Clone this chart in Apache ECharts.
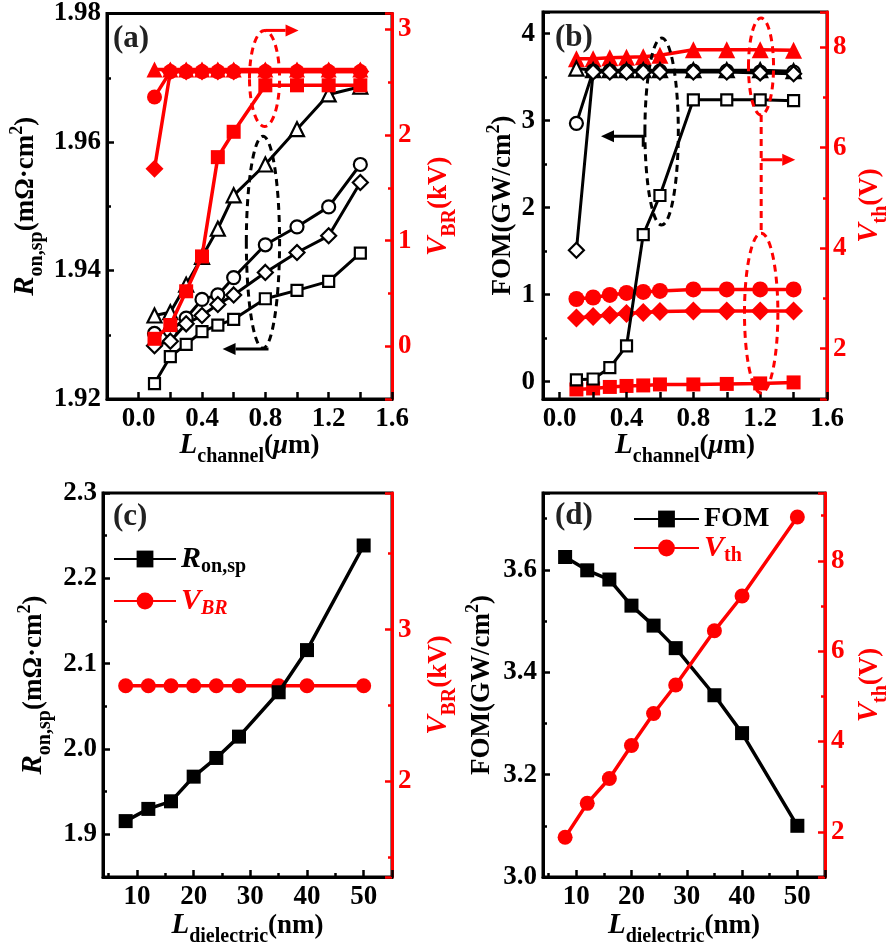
<!DOCTYPE html>
<html>
<head>
<meta charset="UTF-8">
<title>Ron,sp, VBR, FOM and Vth versus Lchannel and Ldielectric</title>
<script src="https://cdn.jsdelivr.net/npm/echarts@6/dist/echarts.min.js"></script>
<style>
    body { margin: 0; background: #fff; }
    #chart { width: 896px; height: 952px; }
</style>
</head>
<body>
<div id="chart"></div>
<script>
// ---------- data ----------
const lChannel = [0.1, 0.2, 0.3, 0.4, 0.5, 0.6, 0.8, 1.0, 1.2, 1.4];

// (a) Ron,sp in mOhm.cm2 (open symbols, left axis)
const ronA_square   = [1.9224, 1.9266, 1.9285, 1.9305, 1.9315, 1.9324, 1.9356, 1.9369, 1.9383, 1.9427];
const ronA_circle   = [1.9302, 1.9306, 1.9326, 1.9355, 1.9362, 1.9389, 1.9440, 1.9468, 1.9499, 1.9565];
const ronA_diamond  = [1.9283, 1.9290, 1.9317, 1.9330, 1.9347, 1.9362, 1.9397, 1.9428, 1.9454, 1.9537];
const ronA_triangle = [1.9330, 1.9335, 1.9378, 1.9421, 1.9465, 1.9517, 1.9565, 1.9620, 1.9674, 1.9686];
// (a) VBR in kV (filled symbols, right axis)
const vbrA_square   = [0.07, 0.20, 0.52, 0.85, 1.79, 2.03, 2.47, 2.47, 2.47, 2.47];
const vbrA_circle   = [2.36, 2.60, 2.60, 2.60, 2.60, 2.60, 2.60, 2.60, 2.60, 2.60];
const vbrA_diamond  = [1.68, 2.60, 2.60, 2.60, 2.60, 2.60, 2.60, 2.60, 2.60, 2.60];
const vbrA_triangle = [2.62, 2.62, 2.62, 2.62, 2.62, 2.62, 2.62, 2.62, 2.62, 2.62];

// (b) FOM in GW/cm2 (open symbols, left axis)
const fomB_square   = [0.02, 0.03, 0.16, 0.41, 1.69, 2.14, 3.24, 3.24, 3.24, 3.23];
const fomB_circle   = [2.97, 3.57, 3.57, 3.57, 3.57, 3.57, 3.57, 3.57, 3.56, 3.56];
const fomB_diamond  = [1.51, 3.56, 3.56, 3.56, 3.56, 3.56, 3.56, 3.56, 3.55, 3.54];
const fomB_triangle = [3.60, 3.58, 3.58, 3.58, 3.58, 3.58, 3.58, 3.58, 3.58, 3.57];
// (b) Vth in V (filled symbols, right axis)
const vthB_square   = [1.19, 1.21, 1.24, 1.26, 1.27, 1.29, 1.29, 1.30, 1.31, 1.33];
const vthB_circle   = [2.99, 3.02, 3.07, 3.11, 3.13, 3.15, 3.18, 3.18, 3.18, 3.18];
const vthB_diamond  = [2.61, 2.64, 2.67, 2.70, 2.72, 2.74, 2.75, 2.75, 2.75, 2.75];
const vthB_triangle = [7.77, 7.77, 7.79, 7.80, 7.81, 7.84, 7.95, 7.95, 7.95, 7.94];

const lDielectric = [8, 12, 16, 20, 24, 28, 35, 40, 50];
// (c)
const ronC = [1.9155, 1.9298, 1.9387, 1.9676, 1.9895, 2.0145, 2.0665, 2.1159, 2.2385];
const vbrC = [2.63, 2.63, 2.63, 2.63, 2.63, 2.63, 2.63, 2.63, 2.63];
// (d)
const fomD = [3.625, 3.599, 3.581, 3.530, 3.491, 3.447, 3.355, 3.281, 3.100];
const vthD = [1.88, 2.63, 3.18, 3.91, 4.62, 5.25, 6.45, 7.22, 8.97];

// tick labels
const ticksChannel = [0, 0.4, 0.8, 1.2, 1.6];
const ticksRonA = [1.92, 1.94, 1.96, 1.98];
const ticksVbrA = [0, 1, 2, 3];
const ticksFomB = [0, 1, 2, 3, 4];
const ticksVthB = [2, 4, 6, 8];
const ticksDielectric = [10, 20, 30, 40, 50];
const ticksRonC = [1.9, 2.0, 2.1, 2.2, 2.3];
const ticksVbrC = [2, 3];
const ticksFomD = [3.0, 3.2, 3.4, 3.6];
const ticksVthD = [2, 4, 6, 8];

// ---------- helpers ----------
const FONT = 'Liberation Serif';
const RED = '#ff0000';
const BLACK = '#000000';

function zip(xs, ys) {
    return xs.map((x, i) => [x, ys[i]]);
}

function labelFor(list, digits) {
    return v => list.some(t => Math.abs(t - v) < 1e-7) ? v.toFixed(digits) : '';
}

// rich text for axis titles: subscripts sit at the bottom, superscripts at the top of a 50px line
function nameRich(color) {
    const base = { fontFamily: FONT, fontWeight: 'bold', color: color };
    return {
        i: Object.assign({}, base, { fontStyle: 'italic', fontSize: 29, lineHeight: 50 }),
        n: Object.assign({}, base, { fontSize: 27, lineHeight: 50 }),
        u: Object.assign({}, base, { fontStyle: 'italic', fontSize: 27, lineHeight: 50 }),
        s: Object.assign({}, base, { fontSize: 20, height: 28, lineHeight: 28, verticalAlign: 'bottom' }),
        p: Object.assign({}, base, { fontSize: 18, height: 32, lineHeight: 32, verticalAlign: 'top' })
    };
}

function axis(o) {
    const c = o.color;
    const ax = {
        type: 'value',
        gridIndex: o.grid,
        position: o.position,
        min: o.min,
        max: o.max,
        splitNumber: o.split,
        axisLine: { show: true, onZero: false, lineStyle: { color: c, width: 3 } },
        axisTick: { show: true, inside: true, length: 7, lineStyle: { color: c, width: 2.5 } },
        minorTick: { show: !!o.minor, splitNumber: 2, length: 4, lineStyle: { color: c, width: 2.5 } },
        splitLine: { show: false },
        minorSplitLine: { show: false },
        axisLabel: {
            color: c, fontFamily: FONT, fontWeight: 'bold', fontSize: 27,
            margin: o.margin, formatter: labelFor(o.labels, o.digits)
        },
        name: o.name,
        nameLocation: 'middle',
        nameGap: o.gap,
        nameRotate: o.rotate,
        nameMoveOverlap: false,
        nameTextStyle: { rich: nameRich(c) },
        z: 3
    };
    if (o.interval) ax.interval = o.interval;
    return ax;
}

function openLine(name, xi, yi, xs, ys, symbol, size, z) {
    return {
        name: name, type: 'line', xAxisIndex: xi, yAxisIndex: yi, data: zip(xs, ys),
        symbol: symbol, symbolSize: size, z: z,
        lineStyle: { color: BLACK, width: 3 },
        itemStyle: { color: '#ffffff', borderColor: BLACK, borderWidth: 2.2 }
    };
}

function filledLine(name, xi, yi, xs, ys, symbol, size, color, z) {
    return {
        name: name, type: 'line', xAxisIndex: xi, yAxisIndex: yi, data: zip(xs, ys),
        symbol: symbol, symbolSize: size, z: z,
        lineStyle: { color: color, width: 3.5 },
        itemStyle: { color: color }
    };
}

const legendRich = {
    ri: { fontFamily: FONT, fontWeight: 'bold', fontStyle: 'italic', fontSize: 30, color: BLACK, lineHeight: 36 },
    rs: { fontFamily: FONT, fontWeight: 'bold', fontSize: 20, color: BLACK, lineHeight: 18, verticalAlign: 'bottom' },
    vi: { fontFamily: FONT, fontWeight: 'bold', fontStyle: 'italic', fontSize: 30, color: RED, lineHeight: 36 },
    vsi: { fontFamily: FONT, fontWeight: 'bold', fontStyle: 'italic', fontSize: 20, color: RED, lineHeight: 18, verticalAlign: 'bottom' },
    vs: { fontFamily: FONT, fontWeight: 'bold', fontSize: 20, color: RED, lineHeight: 18, verticalAlign: 'bottom' },
    fb: { fontFamily: FONT, fontWeight: 'bold', fontSize: 28, color: BLACK, lineHeight: 36 }
};
const legendText = {
    'Ron,sp': '{ri|R}{rs|on,sp}',
    'VBR': '{vi|V}{vsi|BR}',
    'FOM': '{fb|FOM}',
    'Vth': '{vi|V}{vs|th}'
};

const ronName = '{i|R}{s|on,sp}{n|(mΩ·cm}{p|2}{n|)}';
const fomName = '{n|FOM(GW/cm}{p|2}{n|)}';
const vbrName = '{i|V}{s|BR}{n|(kV)}';
const vthName = '{i|V}{s|th}{n|(V)}';
const lchName = '{i|L}{s|channel}{n|(}{u|μ}{n|m)}';
const ldiName = '{i|L}{s|dielectric}{n|(nm)}';

const chart = echarts.init(document.getElementById('chart'));

const gridStyle = { show: true, borderColor: BLACK, borderWidth: 3, containLabel: false };

const option = {
    animation: false,
    backgroundColor: '#ffffff',
    grid: [
        Object.assign({ left: 103, top: 12, width: 289, height: 387 }, gridStyle),
        Object.assign({ left: 543, top: 12, width: 288, height: 387 }, gridStyle),
        Object.assign({ left: 103, top: 493, width: 289, height: 387 }, gridStyle),
        Object.assign({ left: 543, top: 493, width: 288, height: 387 }, gridStyle)
    ],
    xAxis: [
        axis({ grid: 0, position: 'bottom', color: BLACK, min: -0.2, max: 1.6, interval: 0.2, labels: ticksChannel, digits: 1, margin: 7, name: lchName, gap: 22, rotate: 0 }),
        axis({ grid: 1, position: 'bottom', color: BLACK, min: -0.1, max: 1.6, split: 8, labels: ticksChannel, digits: 1, margin: 7, name: lchName, gap: 22, rotate: 0 }),
        axis({ grid: 2, position: 'bottom', color: BLACK, min: 4, max: 55, split: 5, minor: true, labels: ticksDielectric, digits: 0, margin: 7, name: ldiName, gap: 24, rotate: 0 }),
        axis({ grid: 3, position: 'bottom', color: BLACK, min: 4, max: 55, split: 5, minor: true, labels: ticksDielectric, digits: 0, margin: 7, name: ldiName, gap: 24, rotate: 0 })
    ],
    yAxis: [
        axis({ grid: 0, position: 'left', color: BLACK, min: 1.92, max: 1.98, interval: 0.02, minor: true, labels: ticksRonA, digits: 2, margin: 6, name: ronName, gap: 56, rotate: 90 }),
        axis({ grid: 0, position: 'right', color: RED, min: -0.5, max: 3.15, split: 3, minor: true, labels: ticksVbrA, digits: 0, margin: 6, name: vbrName, gap: 22, rotate: 90 }),
        axis({ grid: 1, position: 'left', color: BLACK, min: -0.2, max: 4.25, split: 5, minor: true, labels: ticksFomB, digits: 0, margin: 8, name: fomName, gap: 15, rotate: 90 }),
        axis({ grid: 1, position: 'right', color: RED, min: 1, max: 8.7, split: 4, minor: true, labels: ticksVthB, digits: 0, margin: 6, name: vthName, gap: 18, rotate: 90 }),
        axis({ grid: 2, position: 'left', color: BLACK, min: 1.85, max: 2.3, split: 5, minor: true, labels: ticksRonC, digits: 1, margin: 6, name: ronName, gap: 44, rotate: 90 }),
        axis({ grid: 2, position: 'right', color: RED, min: 1.37, max: 3.9, split: 3, minor: true, labels: ticksVbrC, digits: 0, margin: 6, name: vbrName, gap: 22, rotate: 90 }),
        axis({ grid: 3, position: 'left', color: BLACK, min: 3.0, max: 3.75, split: 4, minor: true, labels: ticksFomD, digits: 1, margin: 6, name: fomName, gap: 36, rotate: 90 }),
        axis({ grid: 3, position: 'right', color: RED, min: 1, max: 9.5, split: 4, minor: true, labels: ticksVthD, digits: 0, margin: 6, name: vthName, gap: 20, rotate: 90 })
    ],
    legend: [
        {
            data: ['Ron,sp', 'VBR'], orient: 'vertical', left: 113, top: 544, padding: 0,
            itemWidth: 62, itemHeight: 21, itemGap: 9,
            formatter: n => legendText[n], textStyle: { rich: legendRich }
        },
        {
            data: ['FOM', 'Vth'], orient: 'vertical', left: 633, top: 505, padding: 0,
            itemWidth: 65, itemHeight: 21, itemGap: 0,
            formatter: n => legendText[n], textStyle: { rich: legendRich }
        }
    ],
    series: [
        // (a) black open symbols under the red ones
        openLine('a-ron-square', 0, 0, lChannel, ronA_square, 'rect', 11, 2),
        openLine('a-ron-circle', 0, 0, lChannel, ronA_circle, 'circle', 13, 2),
        openLine('a-ron-diamond', 0, 0, lChannel, ronA_diamond, 'diamond', 15, 2),
        openLine('a-ron-triangle', 0, 0, lChannel, ronA_triangle, 'triangle', 14, 2),
        filledLine('a-vbr-triangle', 0, 1, lChannel, vbrA_triangle, 'triangle', 16, RED, 3),
        filledLine('a-vbr-circle', 0, 1, lChannel, vbrA_circle, 'circle', 15, RED, 3),
        filledLine('a-vbr-diamond', 0, 1, lChannel, vbrA_diamond, 'diamond', 18, RED, 3),
        filledLine('a-vbr-square', 0, 1, lChannel, vbrA_square, 'rect', 14, RED, 3),
        // (b) red filled under the black open ones
        filledLine('b-vth-square', 1, 3, lChannel, vthB_square, 'rect', 14, RED, 2),
        filledLine('b-vth-circle', 1, 3, lChannel, vthB_circle, 'circle', 16, RED, 2),
        filledLine('b-vth-diamond', 1, 3, lChannel, vthB_diamond, 'diamond', 19, RED, 2),
        filledLine('b-vth-triangle', 1, 3, lChannel, vthB_triangle, 'triangle', 17, RED, 2),
        openLine('b-fom-triangle', 1, 2, lChannel, fomB_triangle, 'triangle', 14, 3),
        openLine('b-fom-circle', 1, 2, lChannel, fomB_circle, 'circle', 13, 3),
        openLine('b-fom-diamond', 1, 2, lChannel, fomB_diamond, 'diamond', 15, 3),
        openLine('b-fom-square', 1, 2, lChannel, fomB_square, 'rect', 11, 3),
        // (c)
        filledLine('VBR', 2, 5, lDielectric, vbrC, 'circle', 15, RED, 2),
        filledLine('Ron,sp', 2, 4, lDielectric, ronC, 'rect', 14, BLACK, 3),
        // (d)
        filledLine('FOM', 3, 6, lDielectric, fomD, 'rect', 14, BLACK, 2),
        filledLine('Vth', 3, 7, lDielectric, vthD, 'circle', 15, RED, 3)
    ]
};

chart.setOption(option);

// ---------- annotations (dashed ellipses and arrows), placed in data space ----------
function px(xi, yi, x, y) {
    return chart.convertToPixel({ xAxisIndex: xi, yAxisIndex: yi }, [x, y]);
}

function ellipse(xi, yi, x0, x1, y0, y1, color) {
    const a = px(xi, yi, x0, y0);
    const b = px(xi, yi, x1, y1);
    return {
        type: 'ellipse', x: (a[0] + b[0]) / 2, y: (a[1] + b[1]) / 2, z: 20,
        shape: { cx: 0, cy: 0, rx: Math.abs(b[0] - a[0]) / 2, ry: Math.abs(b[1] - a[1]) / 2 },
        style: { fill: 'none', stroke: color, lineWidth: 3, lineDash: [7, 5] }
    };
}

function dashed(xi, yi, pts, color) {
    return {
        type: 'polyline', z: 20,
        shape: { points: pts.map(p => px(xi, yi, p[0], p[1])) },
        style: { fill: 'none', stroke: color, lineWidth: 3, lineDash: [7, 5] }
    };
}

function arrow(xi, yi, pts, color) {
    const p = pts.map(q => px(xi, yi, q[0], q[1]));
    const n = p.length;
    const tip = p[n - 1];
    const prev = p[n - 2];
    const ang = Math.atan2(tip[1] - prev[1], tip[0] - prev[0]);
    const len = 13, half = 6;
    const bx = tip[0] - len * Math.cos(ang);
    const by = tip[1] - len * Math.sin(ang);
    const head = [
        tip,
        [bx + half * Math.sin(ang), by - half * Math.cos(ang)],
        [bx - half * Math.sin(ang), by + half * Math.cos(ang)]
    ];
    const shaft = p.slice(0, n - 1).concat([[bx, by]]);
    return [
        { type: 'polyline', z: 20, shape: { points: shaft }, style: { fill: 'none', stroke: color, lineWidth: 3 } },
        { type: 'polygon', z: 20, shape: { points: head }, style: { fill: color } }
    ];
}

function panelLabel(text, left, top) {
    return {
        type: 'text', left: left, top: top, z: 20,
        style: { text: text, font: 'bold 31px "Liberation Serif"', fill: '#222222' }
    };
}

const graphics = [
    panelLabel('(a)', 113, 23),
    panelLabel('(b)', 555, 22),
    panelLabel('(c)', 113, 501),
    panelLabel('(d)', 555, 500),
    // (a)
    ellipse(0, 0, 0.68, 0.89, 1.9279, 1.9609, BLACK),
    ellipse(0, 1, 0.70, 0.89, 2.08, 2.99, RED),
    // (b)
    ellipse(1, 2, 0.51, 0.71, 1.80, 3.95, BLACK),
    ellipse(1, 3, 1.13, 1.28, 6.65, 8.58, RED),
    ellipse(1, 3, 1.106, 1.306, 1.12, 4.30, RED),
    dashed(1, 3, [[1.206, 6.65], [1.206, 4.30]], RED)
]
    .concat(arrow(0, 0, [[0.82, 1.9278], [0.53, 1.9278]], BLACK))
    .concat(arrow(0, 1, [[0.80, 2.99], [1.01, 2.99]], RED))
    .concat(arrow(1, 2, [[0.50, 2.70], [0.50, 2.82], [0.247, 2.82]], BLACK))
    .concat(arrow(1, 3, [[1.206, 5.76], [1.41, 5.76]], RED));

chart.setOption({ graphic: graphics });
</script>
</body>
</html>
